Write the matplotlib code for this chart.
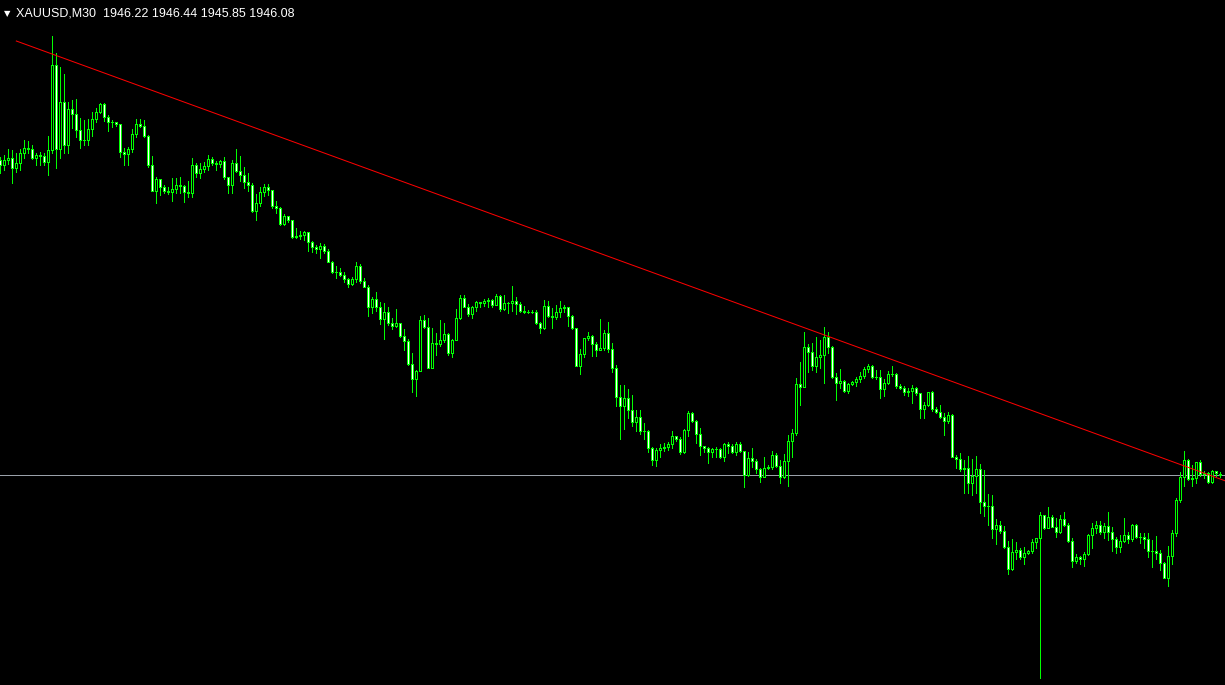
import numpy as np
import matplotlib.pyplot as plt

# XAUUSD M30 candles (open = previous close)
first_open = 1977.6
close = [1977.1, 1977.6, 1977.8, 1976.8, 1977.3, 1978.3, 1978.8, 1978.7, 1977.8, 1978.1,
         1978.0, 1977.4, 1978.6, 1987.1, 1978.7, 1983.4, 1979.1, 1982.7, 1982.2, 1980.6,
         1979.6, 1979.6, 1980.7, 1981.7, 1982.4, 1983.2, 1981.9, 1981.4, 1981.4, 1981.2,
         1978.4, 1978.2, 1978.7, 1980.2, 1981.2, 1981.0, 1980.0, 1977.1, 1974.5, 1975.7,
         1974.9, 1974.5, 1974.4, 1974.7, 1975.1, 1975.0, 1974.4, 1974.3, 1977.1, 1976.3,
         1976.7, 1977.0, 1977.7, 1977.3, 1977.2, 1977.5, 1975.9, 1975.1, 1977.3, 1976.5,
         1976.1, 1975.4, 1975.1, 1972.5, 1973.3, 1974.4, 1974.9, 1974.6, 1973.0, 1972.8,
         1971.2, 1972.0, 1971.6, 1969.9, 1970.0, 1970.1, 1970.4, 1969.4, 1968.9, 1968.7,
         1969.0, 1968.5, 1967.4, 1966.4, 1966.4, 1966.1, 1965.7, 1965.2, 1965.7, 1967.0,
         1965.5, 1964.9, 1962.9, 1963.7, 1962.9, 1961.7, 1962.4, 1961.3, 1961.0, 1961.3,
         1960.0, 1959.5, 1957.2, 1955.7, 1956.5, 1961.6, 1960.9, 1956.8, 1959.3, 1959.2,
         1959.6, 1960.2, 1958.3, 1959.6, 1961.8, 1963.8, 1962.9, 1962.2, 1962.9, 1963.4,
         1963.3, 1963.5, 1963.6, 1963.1, 1964.0, 1962.7, 1963.3, 1963.3, 1963.5, 1963.2,
         1962.5, 1962.4, 1962.4, 1962.4, 1961.3, 1960.8, 1963.0, 1962.0, 1961.9, 1962.4,
         1962.8, 1962.9, 1962.0, 1960.8, 1957.0, 1958.2, 1959.8, 1960.0, 1959.2, 1958.6,
         1958.8, 1960.3, 1958.7, 1956.8, 1953.9, 1953.0, 1953.8, 1952.6, 1951.4, 1951.9,
         1950.5, 1950.5, 1948.8, 1947.6, 1948.6, 1948.8, 1948.9, 1949.2, 1950.0, 1949.7,
         1948.4, 1950.6, 1952.3, 1951.5, 1950.2, 1949.0, 1948.8, 1948.4, 1948.7, 1948.7,
         1947.9, 1949.2, 1949.0, 1948.4, 1949.2, 1948.5, 1946.1, 1947.8, 1947.5, 1946.7,
         1945.9, 1946.8, 1946.9, 1948.1, 1947.0, 1945.9, 1947.5, 1949.5, 1950.3, 1955.2,
         1954.9, 1958.9, 1958.4, 1957.0, 1957.9, 1958.1, 1959.9, 1958.9, 1955.9, 1955.3,
         1955.5, 1954.5, 1955.2, 1955.4, 1955.7, 1956.0, 1956.7, 1957.0, 1955.9, 1955.9,
         1954.7, 1955.3, 1956.2, 1956.2, 1955.0, 1954.8, 1954.4, 1954.5, 1954.8, 1954.3,
         1952.7, 1953.1, 1954.4, 1952.7, 1952.4, 1951.9, 1951.5, 1952.1, 1947.9, 1947.7,
         1946.7, 1946.8, 1945.3, 1946.0, 1946.7, 1943.4, 1943.0, 1943.0, 1940.7, 1941.1,
         1940.5, 1938.9, 1936.7, 1938.4, 1938.6, 1937.9, 1938.3, 1938.5, 1939.4, 1939.8,
         1942.1, 1940.8, 1941.9, 1940.9, 1940.4, 1941.7, 1941.1, 1939.5, 1937.5, 1937.9,
         1937.7, 1938.2, 1940.1, 1940.8, 1941.1, 1940.4, 1941.0, 1940.4, 1939.7, 1938.9,
         1939.5, 1940.1, 1939.7, 1941.1, 1939.9, 1939.9, 1939.7, 1938.5, 1938.5, 1938.3,
         1937.3, 1935.8, 1938.0, 1940.3, 1943.6, 1945.9, 1947.6, 1945.7, 1945.8, 1947.4,
         1946.2, 1946.3, 1945.4, 1946.5, 1946.3, 1946.08]
high = [1977.9, 1978.1, 1978.7, 1978.6, 1978.3, 1978.7, 1979.6, 1979.5, 1979.1, 1978.3,
        1978.4, 1978.3, 1980.0, 1990.0, 1988.3, 1986.9, 1986.2, 1983.4, 1983.6, 1983.7,
        1981.8, 1981.6, 1981.7, 1982.4, 1982.8, 1983.3, 1983.3, 1982.1, 1981.6, 1981.4,
        1980.6, 1978.8, 1978.9, 1980.7, 1981.7, 1981.7, 1981.6, 1980.1, 1978.0, 1975.9,
        1975.7, 1975.1, 1974.9, 1975.8, 1975.8, 1975.9, 1975.1, 1975.5, 1977.8, 1977.3,
        1977.3, 1977.4, 1978.1, 1977.9, 1977.5, 1977.6, 1977.9, 1975.9, 1977.6, 1978.7,
        1978.0, 1976.9, 1976.3, 1975.3, 1974.2, 1974.9, 1975.2, 1975.2, 1974.6, 1973.5,
        1972.9, 1972.2, 1972.0, 1971.6, 1970.8, 1970.5, 1970.5, 1970.0, 1969.5, 1969.1,
        1969.3, 1969.2, 1968.7, 1967.5, 1967.0, 1966.8, 1966.4, 1965.8, 1965.9, 1967.4,
        1967.2, 1965.8, 1965.1, 1963.9, 1964.4, 1963.4, 1963.3, 1962.9, 1961.8, 1962.7,
        1961.3, 1960.7, 1959.7, 1958.3, 1956.6, 1962.0, 1962.1, 1961.8, 1960.8, 1960.3,
        1961.6, 1961.3, 1960.3, 1959.7, 1962.7, 1964.1, 1964.1, 1963.2, 1963.0, 1963.5,
        1963.4, 1963.7, 1963.8, 1963.7, 1964.2, 1964.1, 1964.1, 1963.4, 1965.0, 1963.9,
        1963.4, 1963.0, 1962.6, 1962.6, 1962.6, 1961.4, 1963.6, 1963.5, 1962.8, 1963.1,
        1963.5, 1963.1, 1962.9, 1962.1, 1960.8, 1958.7, 1959.8, 1960.4, 1960.1, 1959.4,
        1961.7, 1960.6, 1961.4, 1959.3, 1957.1, 1955.1, 1955.1, 1954.7, 1954.1, 1952.6,
        1952.6, 1951.3, 1950.6, 1948.9, 1948.8, 1949.2, 1949.3, 1949.4, 1950.5, 1950.0,
        1949.9, 1950.7, 1952.5, 1952.4, 1951.6, 1950.8, 1948.9, 1948.9, 1948.8, 1948.9,
        1948.8, 1949.3, 1949.4, 1949.2, 1949.4, 1949.4, 1948.5, 1948.4, 1948.8, 1947.7,
        1946.8, 1947.9, 1947.1, 1948.5, 1948.3, 1947.6, 1948.2, 1950.1, 1950.7, 1955.8,
        1957.4, 1960.4, 1959.2, 1959.3, 1959.9, 1959.6, 1960.9, 1960.4, 1959.0, 1956.3,
        1956.7, 1955.6, 1955.3, 1955.5, 1955.9, 1956.4, 1956.9, 1957.2, 1957.1, 1956.6,
        1956.6, 1955.7, 1956.5, 1957.0, 1956.3, 1955.2, 1955.0, 1954.8, 1955.1, 1954.9,
        1954.3, 1953.4, 1954.4, 1954.5, 1952.9, 1953.1, 1952.3, 1952.4, 1952.2, 1948.1,
        1948.3, 1947.6, 1948.0, 1947.7, 1948.0, 1947.2, 1946.6, 1944.2, 1944.1, 1941.7,
        1941.5, 1941.0, 1939.5, 1939.7, 1939.4, 1938.8, 1938.9, 1938.6, 1939.7, 1939.8,
        1942.4, 1941.9, 1942.9, 1942.1, 1941.8, 1942.1, 1942.4, 1941.3, 1939.8, 1938.2,
        1938.0, 1938.4, 1940.2, 1941.3, 1941.5, 1941.5, 1941.3, 1942.4, 1940.9, 1939.9,
        1940.1, 1941.8, 1940.4, 1941.2, 1941.2, 1940.3, 1940.3, 1940.3, 1939.6, 1940.0,
        1938.6, 1937.4, 1939.0, 1940.6, 1943.8, 1946.4, 1948.5, 1947.7, 1947.1, 1947.4,
        1947.6, 1946.5, 1946.4, 1946.6, 1946.5, 1946.44]
low = [1976.3, 1976.6, 1977.2, 1975.3, 1976.4, 1976.6, 1977.8, 1978.3, 1977.7, 1977.1,
       1977.1, 1977.1, 1976.1, 1978.3, 1976.8, 1977.8, 1978.3, 1978.3, 1980.8, 1979.9,
       1978.8, 1979.1, 1979.1, 1980.0, 1981.4, 1982.3, 1981.5, 1980.5, 1980.9, 1981.0,
       1977.9, 1977.1, 1977.1, 1978.4, 1979.9, 1980.9, 1979.9, 1976.9, 1974.5, 1973.3,
       1974.1, 1974.3, 1974.2, 1973.5, 1974.3, 1974.3, 1973.4, 1973.9, 1973.9, 1975.9,
       1975.8, 1976.4, 1976.6, 1977.1, 1976.6, 1976.9, 1975.7, 1974.3, 1974.3, 1976.4,
       1975.5, 1974.8, 1974.5, 1972.4, 1971.6, 1973.0, 1974.0, 1974.1, 1972.8, 1972.3,
       1971.1, 1971.1, 1971.4, 1969.8, 1969.8, 1969.7, 1969.6, 1968.5, 1968.4, 1968.3,
       1967.8, 1968.3, 1967.4, 1966.3, 1965.8, 1966.0, 1965.4, 1964.9, 1965.1, 1965.4,
       1965.3, 1964.9, 1962.0, 1962.3, 1962.5, 1961.2, 1959.7, 1961.1, 1960.7, 1960.9,
       1959.9, 1958.6, 1957.1, 1954.4, 1954.0, 1956.5, 1960.8, 1956.8, 1956.8, 1958.1,
       1959.0, 1959.4, 1958.1, 1957.9, 1959.6, 1961.7, 1962.9, 1962.0, 1961.8, 1962.5,
       1962.9, 1963.0, 1962.9, 1962.9, 1963.3, 1962.5, 1962.6, 1962.3, 1962.5, 1962.2,
       1962.4, 1962.3, 1962.3, 1962.3, 1961.2, 1960.3, 1960.7, 1961.9, 1960.8, 1961.7,
       1961.9, 1962.4, 1961.0, 1960.7, 1957.0, 1956.2, 1957.9, 1959.6, 1958.0, 1958.0,
       1958.6, 1958.6, 1958.4, 1956.4, 1953.0, 1949.7, 1950.7, 1951.8, 1951.0, 1950.5,
       1950.2, 1949.7, 1948.4, 1947.1, 1947.0, 1947.9, 1948.5, 1948.6, 1948.8, 1949.5,
       1948.2, 1948.3, 1950.0, 1951.4, 1949.3, 1948.1, 1948.4, 1947.3, 1947.9, 1947.9,
       1947.8, 1947.5, 1948.3, 1948.3, 1948.1, 1948.4, 1944.9, 1946.0, 1946.9, 1946.3,
       1945.4, 1945.9, 1946.7, 1946.7, 1946.9, 1945.3, 1945.8, 1945.0, 1947.9, 1950.1,
       1953.1, 1954.9, 1956.4, 1956.6, 1956.4, 1956.8, 1955.3, 1958.3, 1955.8, 1953.6,
       1954.8, 1954.4, 1954.3, 1955.1, 1955.0, 1955.4, 1955.8, 1956.4, 1955.8, 1955.7,
       1953.8, 1954.0, 1955.2, 1956.0, 1954.8, 1954.7, 1954.1, 1954.0, 1953.3, 1954.1,
       1951.8, 1951.8, 1953.0, 1952.5, 1952.3, 1951.8, 1950.1, 1951.3, 1947.9, 1946.8,
       1946.5, 1944.3, 1944.3, 1944.1, 1944.3, 1942.3, 1942.0, 1941.1, 1939.8, 1939.2,
       1940.3, 1938.8, 1936.2, 1936.6, 1937.7, 1937.7, 1937.2, 1938.2, 1938.3, 1938.8,
       1925.8, 1940.7, 1941.4, 1940.9, 1939.9, 1940.3, 1941.0, 1939.4, 1936.9, 1937.3,
       1937.2, 1937.0, 1938.1, 1938.8, 1940.3, 1940.2, 1939.8, 1939.6, 1938.5, 1938.3,
       1938.4, 1939.4, 1939.3, 1939.5, 1939.8, 1939.3, 1938.8, 1937.9, 1936.9, 1937.7,
       1936.6, 1935.8, 1935.0, 1937.2, 1940.0, 1943.4, 1945.0, 1945.6, 1945.0, 1945.3,
       1946.0, 1945.8, 1945.3, 1945.3, 1946.0, 1945.85]

last_ohlc = [1946.22, 1946.44, 1945.85, 1946.08]   # header values of the current bar
symbol = 'XAUUSD,M30'
trend_x = [4, 305]          # trend line anchors (bar index, price)
trend_p = [1989.5, 1945.7]

close = np.array(close)
opn = np.r_[first_open, close[:-1]]
opn[-1] = last_ohlc[0]
hi = np.maximum(high, np.maximum(opn, close))
lo = np.minimum(low, np.minimum(opn, close))
x = np.arange(len(close))
up = close >= opn

px = 0.72  # one pixel in points at dpi 100
fig = plt.figure(figsize=(12.25, 6.85), dpi=100, facecolor='black')
ax = fig.add_axes([0, 0, 1, 1])
ax.set_facecolor('black')

ax.axhline(last_ohlc[3], color='#9aa1a9', lw=px, zorder=1)  # bid line
ax.vlines(x, lo, hi, color='#00ff00', lw=px, zorder=2, antialiased=False)
ax.bar(x, close - opn, bottom=opn, width=0.5,
       color=np.where(up, 'black', 'white'), edgecolor='#00ff00',
       linewidth=px, zorder=3, antialiased=False)

# trend line drawn as a ray to the right edge
slope = (trend_p[1] - trend_p[0]) / (trend_x[1] - trend_x[0])
x_end = 310
ax.plot([trend_x[0], x_end], [trend_p[0], trend_p[0] + slope * (x_end - trend_x[0])],
        color='#ff0000', lw=px, zorder=4)

ax.set_xlim(-0.08, 306.2)
ax.set_ylim(1925.1, 1993.6)
ax.set_xticks([])
ax.set_yticks([])
for s in ax.spines.values():
    s.set_visible(False)

head = symbol + '  ' + ' '.join(f'{v:.2f}' for v in last_ohlc)
fig.text(4 / 1225, 1 - 16 / 685, '\u25bc', color='white', fontsize=6,
         family='DejaVu Sans', va='baseline')
fig.text(16 / 1225, 1 - 17 / 685, head, color='white', fontsize=9,
         family='Liberation Sans', va='baseline')

fig.savefig('out.png', dpi=100, facecolor='black')
